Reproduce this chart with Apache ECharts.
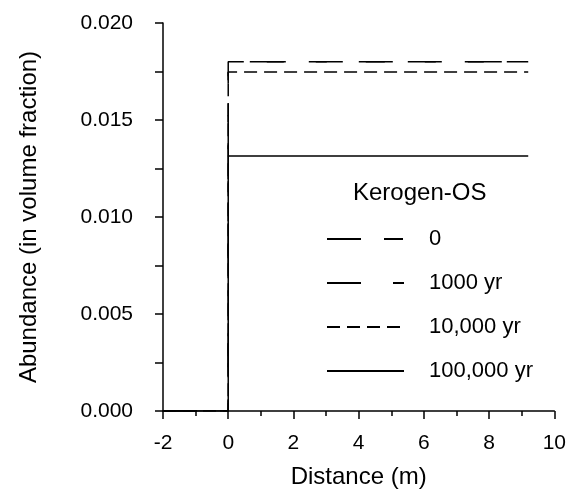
<!DOCTYPE html>
<html><head><meta charset="utf-8">
<script src="https://cdn.jsdelivr.net/npm/echarts@6/dist/echarts.min.js"></script>
<style>html,body{margin:0;padding:0;background:#fff}#c{width:569px;height:496px}</style>
</head><body><div id="c"></div>
<script>
var seriesNames = ['0', '1000 yr', '10,000 yr', '100,000 yr'];
var distance = [-2, 0, 0, 9.2];
var abund0 = [0, 0, 0.01800, 0.01800];
var abund1000 = [0, 0, 0.01800, 0.01800];
var abund10000 = [0, 0, 0.01747, 0.01747];
var abund100000 = [0, 0, 0.01314, 0.01314];
var dashes = [[34, 23, 19, 23], [34, 32, 11, 32], [13, 7], null];
var values = [abund0, abund1000, abund10000, abund100000];

var font = 'Liberation Sans, Arial, sans-serif';
var chart = echarts.init(document.getElementById('c'));
var series = seriesNames.map(function (n, i) {
  return {
    name: n, type: 'line', symbol: 'none', animation: false,
    data: distance.map(function (x, k) { return [x, values[i][k]]; }),
    lineStyle: { color: '#000', width: 1.5, type: dashes[i] || 'solid' },
    itemStyle: { color: '#000' }
  };
});
chart.setOption({
  backgroundColor: '#fff',
  animation: false,
  grid: { left: 163, right: 14, top: 23, bottom: 85 },
  legend: {
    orient: 'vertical', left: 326, top: 228, padding: 0, itemWidth: 77, itemHeight: 20, itemGap: 22,
    data: seriesNames,
    itemStyle: { color: 'rgba(0,0,0,0)', borderWidth: 0, opacity: 0 },
    textStyle: { fontFamily: font, fontSize: 22, lineHeight: 20, color: '#000', padding: [0, 0, 0, 20] }
  },
  graphic: [{ type: 'text', left: 353, top: 181, style: { text: 'Kerogen-OS', font: '24px ' + font, fill: '#000' } }],
  xAxis: {
    type: 'value', min: -2, max: 10, interval: 2,
    name: 'Distance (m)', nameLocation: 'middle', nameGap: 54,
    nameTextStyle: { fontFamily: font, fontSize: 24, color: '#000' },
    axisLine: { onZero: false, lineStyle: { color: '#000', width: 1.5 } },
    axisTick: { show: true, inside: false, length: 8, lineStyle: { color: '#000', width: 1.5 } },
    minorTick: { show: true, splitNumber: 2, length: 5, lineStyle: { color: '#000', width: 1.5 } },
    axisLabel: { fontFamily: font, fontSize: 21, color: '#000', margin: 22 },
    splitLine: { show: false }
  },
  yAxis: {
    type: 'value', min: 0, max: 0.02, interval: 0.005,
    name: 'Abundance (in volume fraction)', nameLocation: 'middle', nameGap: 122,
    nameTextStyle: { fontFamily: font, fontSize: 24, color: '#000' },
    axisLine: { onZero: false, lineStyle: { color: '#000', width: 1.5 } },
    axisTick: { show: true, inside: false, length: 8, lineStyle: { color: '#000', width: 1.5 } },
    minorTick: { show: true, splitNumber: 2, length: 8, lineStyle: { color: '#000', width: 1.5 } },
    axisLabel: { fontFamily: font, fontSize: 21, color: '#000', margin: 30, formatter: function (v) { return v.toFixed(3); } },
    splitLine: { show: false }
  },
  series: series
});
</script></body></html>
